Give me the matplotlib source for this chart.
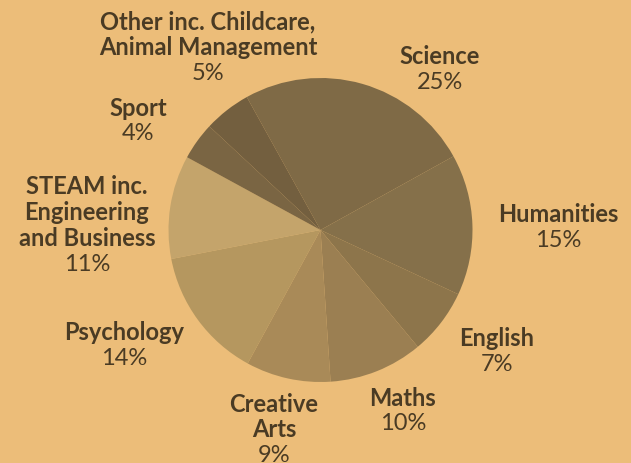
import matplotlib
matplotlib.use("Agg")
import matplotlib.pyplot as plt

categories = ["Science", "Humanities", "English", "Maths", "Creative\nArts",
              "Psychology", "STEAM inc.\nEngineering\nand Business", "Sport",
              "Other inc. Childcare,\nAnimal Management"]
values = [25, 15, 7, 10, 9, 14, 11, 4, 5]

colors = ["#7f6a46", "#85704a", "#8d754b", "#9b7f52", "#a98a58",
          "#b5975f", "#c4a46b", "#7a6543", "#735f3f"]
BG = "#ecbd79"
TXT = "#4a3b24"

# label block positions (center x, first-line y) in pixels
label_pos = [(440, 57), (558, 215), (497, 339), (403, 398), (274, 404),
             (124, 333), (87, 187), (138, 108), (208, 22)]

W, H = 631, 463
fig = plt.figure(figsize=(W / 100, H / 100), dpi=100)
fig.patch.set_facecolor(BG)

cx, cy, r = 320.5, 230, 152
ax = fig.add_axes([(cx - r) / W, (H - cy - r) / H, 2 * r / W, 2 * r / H])
ax.set_facecolor(BG)
ax.pie(values, colors=colors, startangle=119, counterclock=False,
       wedgeprops=dict(linewidth=0), radius=1)
ax.set_xlim(-1, 1)
ax.set_ylim(-1, 1)
ax.set_aspect("equal")
ax.axis("off")

LS = 25.7
FS = 17
fam = ["Lato", "DejaVu Sans"]
for name, v, (px, py) in zip(categories, values, label_pos):
    lines = name.split("\n")
    for i, ln in enumerate(lines):
        fig.text(px / W, 1 - (py + i * LS) / H, ln, ha="center", va="center",
                 fontsize=FS, fontweight="bold", color=TXT, family=fam)
    fig.text(px / W, 1 - (py + len(lines) * LS) / H, f"{v}%", ha="center",
             va="center", fontsize=FS, color=TXT, family=fam)

fig.savefig("out.png", dpi=100, facecolor=BG)
